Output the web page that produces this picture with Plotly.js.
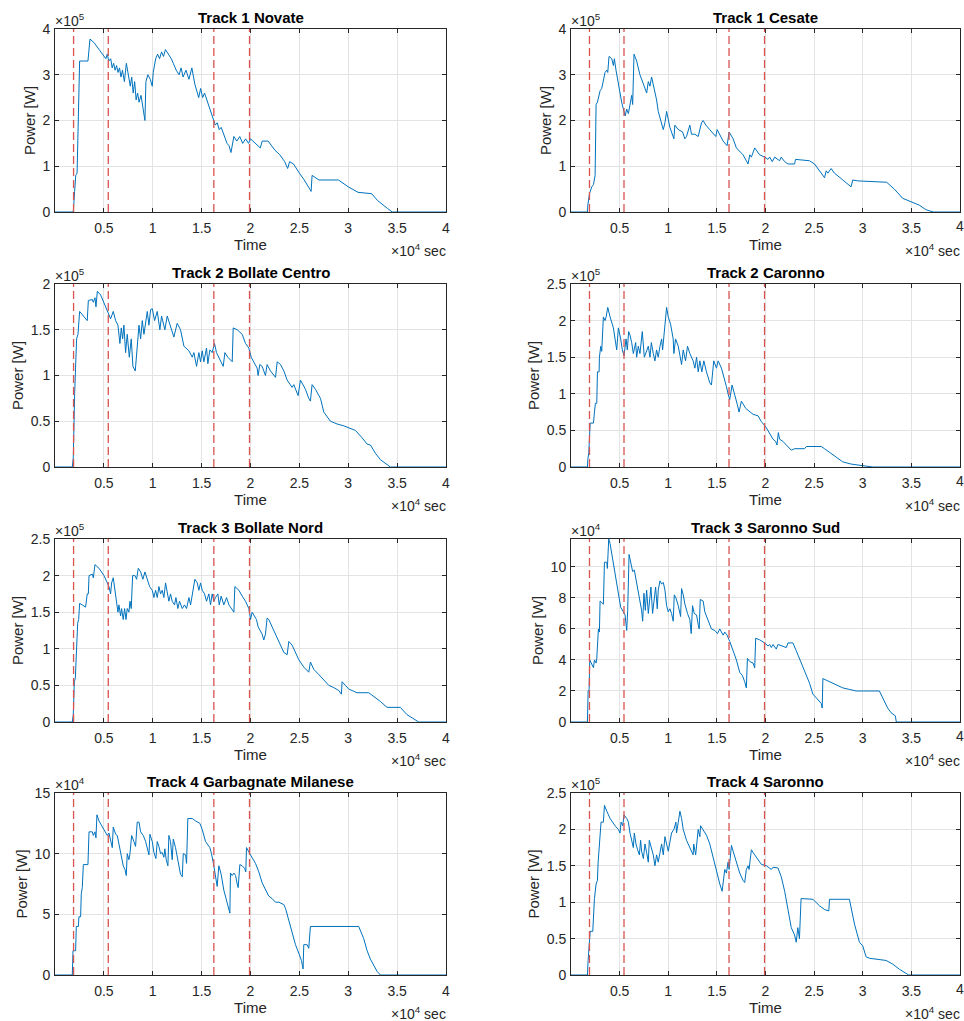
<!DOCTYPE html>
<html>
<head>
<meta charset="utf-8">
<script src="https://cdn.plot.ly/plotly-3.0.1.min.js"></script>
<style>html,body{margin:0;padding:0;background:#fff;overflow:hidden;}#chart{width:964px;height:1021px;}</style>
</head>
<body>
<div id="chart"></div>
<script>
// Time in units of 1e4 sec; power in units shown on each axis (x10^5 W or x10^4 W)
const eventTimes = [0.19, 0.545, 1.625, 1.99];

const novateT = [0,0.187,0.201,0.212,0.226,0.252,0.337,0.358,0.40,0.45,0.50,0.52,0.535,0.55,0.57,0.585,0.60,0.615,0.63,0.645,0.66,0.675,0.69,0.71,0.73,0.75,0.77,0.785,0.80,0.815,0.83,0.845,0.86,0.88,0.90,0.92,0.93,0.95,0.975,0.995,1.005,1.03,1.05,1.07,1.09,1.11,1.13,1.16,1.19,1.21,1.24,1.27,1.29,1.31,1.34,1.37,1.40,1.43,1.45,1.47,1.49,1.51,1.53,1.56,1.59,1.62,1.64,1.66,1.68,1.70,1.73,1.76,1.78,1.80,1.83,1.86,1.89,1.92,1.95,1.98,2.0,2.05,2.10,2.12,2.18,2.25,2.30,2.35,2.38,2.40,2.44,2.50,2.55,2.62,2.63,2.70,2.90,3.0,3.10,3.24,3.30,3.40,3.45,4.0];
const novateP = [0,0,0.45,0.8,0.85,3.3,3.3,3.78,3.7,3.55,3.42,3.35,3.45,3.3,3.35,3.15,3.25,3.1,3.2,3.05,3.15,2.95,3.1,2.85,3.25,2.95,2.75,2.95,2.6,2.85,2.45,2.6,2.4,2.55,2.3,2.0,2.85,3.0,2.9,2.75,3.05,3.35,3.45,3.35,3.5,3.4,3.55,3.45,3.35,3.25,3.1,3.0,3.15,2.95,3.1,2.9,3.15,2.8,2.65,2.5,2.7,2.5,2.6,2.4,2.25,2.0,1.9,1.95,1.8,1.85,1.65,1.5,1.45,1.3,1.65,1.55,1.65,1.5,1.6,1.5,1.6,1.5,1.4,1.55,1.55,1.35,1.25,1.1,0.95,1.1,1.05,0.85,0.7,0.45,0.8,0.7,0.7,0.55,0.43,0.4,0.25,0.08,0,0];

const cesateT = [0,0.169,0.173,0.190,0.214,0.231,0.248,0.258,0.272,0.282,0.299,0.316,0.333,0.350,0.368,0.378,0.391,0.419,0.436,0.446,0.463,0.487,0.521,0.556,0.573,0.590,0.607,0.624,0.634,0.648,0.675,0.709,0.744,0.778,0.795,0.812,0.829,0.846,0.863,0.880,0.897,0.921,0.949,0.966,0.983,1.017,1.058,1.068,1.103,1.147,1.171,1.188,1.222,1.239,1.274,1.308,1.342,1.359,1.386,1.427,1.489,1.503,1.530,1.564,1.605,1.626,1.667,1.701,1.769,1.821,1.838,1.855,1.889,1.906,1.940,1.991,2.026,2.043,2.070,2.094,2.145,2.162,2.197,2.231,2.299,2.309,2.453,2.504,2.538,2.607,2.624,2.641,2.675,2.709,2.795,2.880,2.897,2.949,3.246,3.325,3.410,3.496,3.581,3.650,3.726,4.0];
const cesateP = [0,0,0.15,0.4,0.55,0.6,0.8,2.35,2.4,2.5,2.65,2.7,2.9,3.05,3.1,3.05,3.4,3.35,3.2,3.35,3.1,2.8,2.4,2.1,2.25,2.15,2.4,2.55,2.35,3.45,3.3,3.0,2.8,2.6,2.85,2.75,2.95,2.8,2.6,2.45,2.2,2.0,1.8,1.95,2.2,1.85,1.6,1.9,1.8,1.75,1.6,1.65,1.9,1.7,1.7,1.65,1.95,2.0,1.9,1.8,1.65,1.8,1.7,1.55,1.45,1.75,1.6,1.4,1.25,1.05,1.25,1.2,1.4,1.35,1.25,1.2,1.15,1.2,1.1,1.2,1.12,1.2,1.1,1.05,1.05,1.15,1.12,1.05,0.95,0.75,0.9,0.85,0.95,0.85,0.7,0.55,0.7,0.68,0.65,0.5,0.3,0.22,0.15,0.05,0,0];

const bollateCentroT = [0,0.177,0.187,0.201,0.221,0.235,0.252,0.330,0.341,0.382,0.392,0.409,0.419,0.433,0.467,0.501,0.535,0.569,0.596,0.620,0.644,0.664,0.678,0.692,0.705,0.722,0.739,0.760,0.780,0.797,0.821,0.842,0.859,0.876,0.893,0.910,0.927,0.944,0.961,0.978,0.995,1.019,1.046,1.073,1.090,1.124,1.148,1.175,1.216,1.250,1.284,1.319,1.370,1.404,1.421,1.448,1.472,1.489,1.506,1.523,1.550,1.564,1.584,1.608,1.632,1.652,1.676,1.721,1.738,1.768,1.813,1.823,1.864,1.915,1.949,1.983,2.007,2.034,2.068,2.078,2.095,2.119,2.153,2.170,2.204,2.256,2.273,2.307,2.341,2.375,2.426,2.443,2.477,2.487,2.511,2.562,2.596,2.613,2.630,2.664,2.716,2.750,2.818,2.886,2.954,3.005,3.073,3.141,3.193,3.227,3.278,3.329,3.417,3.431,4.0];
const bollateCentroP = [0,0,0.1,0.8,1.4,1.45,1.7,1.6,1.82,1.83,1.8,1.85,1.75,1.92,1.88,1.8,1.7,1.62,1.7,1.6,1.55,1.35,1.52,1.4,1.55,1.25,1.45,1.2,1.4,1.1,1.05,1.35,1.55,1.4,1.6,1.45,1.6,1.7,1.55,1.72,1.73,1.6,1.7,1.5,1.65,1.5,1.65,1.55,1.42,1.57,1.5,1.32,1.27,1.2,1.25,1.1,1.25,1.15,1.27,1.15,1.3,1.13,1.28,1.25,1.35,1.25,1.2,1.1,1.25,1.2,1.15,1.52,1.5,1.45,1.35,1.3,1.2,1.15,1.08,1.0,1.12,1.1,1.0,1.12,1.05,0.98,1.15,1.12,1.05,0.95,0.87,0.9,0.8,0.78,0.95,0.85,0.75,0.72,0.9,0.85,0.75,0.6,0.5,0.47,0.45,0.43,0.4,0.32,0.25,0.24,0.15,0.08,0.01,0,0];

const caronnoT = [0,0.169,0.173,0.183,0.197,0.231,0.241,0.251,0.265,0.272,0.289,0.292,0.306,0.316,0.333,0.350,0.361,0.378,0.402,0.436,0.470,0.487,0.511,0.528,0.545,0.566,0.579,0.593,0.607,0.624,0.641,0.665,0.675,0.692,0.709,0.733,0.754,0.778,0.795,0.812,0.826,0.846,0.863,0.880,0.897,0.915,0.932,0.942,0.956,0.966,0.983,1.000,1.024,1.051,1.058,1.075,1.103,1.137,1.154,1.178,1.198,1.222,1.256,1.274,1.291,1.308,1.325,1.345,1.366,1.393,1.427,1.444,1.468,1.496,1.513,1.547,1.581,1.598,1.615,1.632,1.656,1.684,1.711,1.728,1.752,1.797,1.838,1.872,1.923,1.957,2.002,2.026,2.060,2.077,2.104,2.118,2.132,2.145,2.179,2.214,2.248,2.265,2.299,2.368,2.402,2.419,2.573,2.607,2.658,2.709,2.744,2.795,2.880,2.932,3.000,3.103,4.0];
const caronnoP = [0,0,0.1,0.2,0.6,0.6,0.75,0.87,0.87,1.3,1.3,1.5,1.65,1.58,2.05,2.0,2.05,2.18,2.05,1.9,1.6,1.9,1.75,1.6,1.52,1.75,1.6,1.85,1.8,1.7,1.55,1.7,1.5,1.65,1.55,1.85,1.5,1.6,1.65,1.5,1.7,1.55,1.45,1.6,1.5,1.65,1.75,1.6,1.8,1.85,2.18,2.05,1.95,1.75,1.55,1.75,1.65,1.4,1.6,1.45,1.65,1.55,1.45,1.35,1.5,1.3,1.45,1.3,1.45,1.3,1.15,1.12,1.45,1.35,1.45,1.35,1.2,1.1,1.0,0.92,1.12,1.0,0.85,0.75,0.9,0.8,0.75,0.72,0.7,0.62,0.55,0.5,0.42,0.38,0.35,0.3,0.47,0.38,0.35,0.3,0.25,0.23,0.25,0.25,0.25,0.28,0.28,0.25,0.2,0.15,0.12,0.07,0.04,0.03,0.01,0,0];

const bollateNordT = [0,0.177,0.187,0.198,0.208,0.221,0.232,0.242,0.252,0.279,0.313,0.330,0.341,0.348,0.382,0.392,0.409,0.450,0.501,0.535,0.552,0.569,0.579,0.596,0.613,0.630,0.644,0.654,0.671,0.681,0.698,0.712,0.726,0.739,0.756,0.767,0.780,0.794,0.818,0.835,0.852,0.876,0.899,0.920,0.944,0.968,0.995,1.012,1.029,1.046,1.063,1.080,1.097,1.114,1.131,1.148,1.165,1.182,1.199,1.223,1.237,1.257,1.274,1.302,1.325,1.346,1.370,1.387,1.414,1.431,1.455,1.472,1.489,1.506,1.530,1.550,1.574,1.591,1.608,1.625,1.642,1.666,1.680,1.700,1.727,1.755,1.779,1.806,1.830,1.840,1.881,1.915,1.949,1.983,2.000,2.017,2.041,2.061,2.078,2.102,2.119,2.136,2.153,2.170,2.187,2.221,2.256,2.290,2.341,2.375,2.392,2.426,2.460,2.494,2.545,2.596,2.613,2.647,2.698,2.750,2.801,2.852,2.903,2.930,2.937,2.971,3.005,3.056,3.090,3.210,3.261,3.329,3.397,3.533,3.601,3.687,3.721,4.0];
const bollateNordP = [0,0,0.1,0.55,0.6,0.95,1.35,1.4,1.62,1.6,1.57,1.75,1.75,2.0,2.02,1.97,2.15,2.1,2.0,1.9,1.85,1.75,1.9,1.97,1.8,1.7,1.5,1.6,1.45,1.55,1.4,1.55,1.4,1.55,1.5,1.65,1.55,2.0,2.0,1.95,2.1,2.05,1.95,2.05,1.95,1.85,1.8,1.7,1.8,1.7,1.85,1.75,1.8,1.7,1.9,1.75,1.65,1.75,1.65,1.6,1.7,1.55,1.65,1.55,1.6,1.55,1.7,1.6,1.8,1.95,1.9,1.8,1.9,1.8,1.75,1.65,1.75,1.6,1.75,1.65,1.7,1.75,1.6,1.72,1.6,1.7,1.6,1.55,1.5,1.85,1.8,1.72,1.65,1.55,1.4,1.5,1.45,1.4,1.3,1.25,1.2,1.12,1.2,1.42,1.4,1.3,1.2,1.1,0.95,0.92,1.1,1.05,0.95,0.85,0.75,0.68,0.82,0.72,0.65,0.58,0.5,0.47,0.43,0.38,0.55,0.5,0.45,0.42,0.4,0.4,0.35,0.28,0.2,0.2,0.1,0.03,0,0];

const saronnoSudT = [0,0.169,0.176,0.186,0.193,0.207,0.217,0.231,0.241,0.258,0.265,0.272,0.282,0.292,0.299,0.316,0.333,0.344,0.368,0.374,0.388,0.402,0.429,0.453,0.487,0.511,0.538,0.556,0.573,0.583,0.597,0.617,0.634,0.651,0.675,0.692,0.709,0.726,0.737,0.750,0.764,0.778,0.795,0.812,0.822,0.839,0.853,0.870,0.887,0.897,0.915,0.932,0.949,0.966,0.983,1.000,1.017,1.034,1.051,1.062,1.079,1.103,1.127,1.137,1.154,1.171,1.198,1.222,1.236,1.250,1.267,1.291,1.308,1.318,1.329,1.359,1.376,1.410,1.444,1.479,1.506,1.530,1.564,1.581,1.605,1.632,1.667,1.701,1.735,1.762,1.786,1.803,1.814,1.838,1.872,1.889,1.899,1.940,1.991,2.026,2.043,2.060,2.077,2.111,2.128,2.179,2.214,2.231,2.282,2.316,2.368,2.419,2.453,2.487,2.538,2.573,2.583,2.590,2.624,2.692,2.744,2.795,2.863,2.932,3.171,3.205,3.256,3.291,3.335,3.345,4.0];
const saronnoSudP = [0,0,2.0,2.1,4.0,3.8,3.7,3.5,4.0,3.8,4.1,5.5,6.0,5.8,7.8,7.7,7.6,10.3,10.3,9.9,11.8,11.5,10.5,9.5,8.2,7.4,7.1,6.9,5.9,7.2,10.8,10.2,9.7,9.8,9.0,8.5,7.8,7.2,6.5,8.3,7.2,8.5,7.0,8.0,8.7,7.0,8.0,8.7,7.3,8.5,9.1,8.9,9.0,8.5,7.5,7.1,7.3,7.0,6.5,8.2,8.0,7.5,6.8,8.6,8.2,7.6,7.0,6.6,5.7,7.5,7.0,6.9,6.3,6.0,7.9,7.8,7.1,6.6,6.0,5.9,5.7,6.0,5.6,5.8,5.6,5.2,4.6,4.0,3.2,3.0,2.6,2.2,4.1,3.9,3.8,3.5,5.4,5.3,5.1,4.9,5.0,4.8,5.0,4.7,5.0,4.9,4.8,5.1,5.1,4.6,3.8,3.0,2.5,1.8,1.4,1.2,0.9,2.8,2.7,2.5,2.3,2.2,2.1,2.0,2.0,1.6,0.9,0.6,0.4,0,0];

const garbagnateT = [0,0.177,0.184,0.211,0.218,0.239,0.245,0.262,0.269,0.279,0.290,0.337,0.348,0.382,0.392,0.409,0.419,0.429,0.450,0.484,0.518,0.535,0.552,0.569,0.586,0.596,0.620,0.637,0.661,0.678,0.698,0.716,0.729,0.739,0.756,0.767,0.784,0.807,0.824,0.841,0.859,0.876,0.903,0.927,0.944,0.961,0.971,0.995,1.012,1.032,1.046,1.063,1.080,1.097,1.114,1.124,1.138,1.155,1.165,1.182,1.199,1.210,1.233,1.250,1.267,1.284,1.302,1.312,1.336,1.346,1.359,1.404,1.438,1.482,1.506,1.540,1.584,1.601,1.625,1.642,1.659,1.676,1.700,1.727,1.761,1.789,1.795,1.813,1.830,1.847,1.864,1.874,1.891,1.915,1.939,1.952,1.959,1.983,2.000,2.051,2.085,2.119,2.153,2.187,2.221,2.256,2.290,2.341,2.358,2.392,2.426,2.460,2.494,2.521,2.538,2.545,2.579,2.596,2.613,3.107,3.158,3.193,3.227,3.261,3.295,3.329,4.0];
const garbagnateP = [0,0,2,2,4,4,4.8,4.8,6.7,7.2,9.1,9.1,11.8,11.8,11.5,11.8,11.3,13.2,12.7,12.2,11.7,11.5,11.7,11.2,10.5,12.2,11.6,11.5,10.5,10.0,9.0,8.7,8.2,10.0,9.5,10.0,11.5,11.0,10.6,12.6,12.6,11.8,11.5,11.0,10.5,9.9,11.6,11.0,10.1,9.6,11.0,10.6,10.0,10.1,9.7,10.4,9.5,9.0,11.5,11.0,9.5,11.2,10.5,9.8,9.0,8.3,8.1,10.0,9.9,9.2,12.9,12.9,12.7,12.5,12.0,11.0,10.5,10.0,9.0,8.0,7.3,9.0,8.3,7.0,6.0,5.1,8.4,8.2,8.4,8.2,7.5,7.2,9.1,9.0,8.8,8.5,10.5,10.2,9.9,9.2,8.5,7.6,7.0,6.5,6.3,6.0,6.0,5.8,5.5,4.5,3.5,2.5,1.8,1.2,0.5,2.5,2.5,2.2,4.0,4.0,3.0,2.0,1.3,0.8,0.3,0,0];

const saronnoT = [0,0.169,0.176,0.186,0.197,0.224,0.231,0.241,0.258,0.272,0.279,0.289,0.299,0.309,0.333,0.344,0.368,0.402,0.453,0.487,0.504,0.515,0.532,0.545,0.573,0.590,0.607,0.624,0.641,0.651,0.668,0.685,0.703,0.716,0.726,0.744,0.761,0.778,0.795,0.805,0.829,0.846,0.863,0.880,0.897,0.915,0.932,0.949,0.966,0.983,1.000,1.034,1.058,1.079,1.085,1.103,1.120,1.137,1.154,1.188,1.222,1.256,1.262,1.282,1.308,1.325,1.332,1.359,1.393,1.427,1.462,1.496,1.530,1.554,1.564,1.581,1.598,1.615,1.626,1.650,1.667,1.701,1.735,1.769,1.786,1.803,1.821,1.831,1.855,1.889,1.923,1.957,2.009,2.060,2.077,2.128,2.162,2.197,2.231,2.265,2.299,2.316,2.332,2.349,2.366,2.487,2.556,2.607,2.651,2.658,2.863,2.915,2.966,3.000,3.034,3.068,3.239,3.308,3.376,3.444,3.472,4.0];
const saronnoP = [0,0,0.2,0.45,0.6,0.6,0.9,1.05,1.25,1.3,1.55,1.7,1.9,2.1,2.1,2.33,2.25,2.15,2.05,2.0,1.95,2.1,2.05,2.2,2.15,2.1,1.95,1.85,1.75,1.95,1.8,1.72,1.65,1.85,1.7,1.6,1.8,1.68,1.55,1.85,1.75,1.65,1.5,1.65,1.55,1.7,1.8,1.65,1.9,1.8,1.7,1.95,2.0,2.1,1.95,2.1,2.25,2.15,2.0,1.85,1.75,1.65,1.8,1.65,2.0,1.9,2.05,2.0,1.92,1.8,1.6,1.45,1.25,1.15,1.3,1.45,1.4,1.55,1.45,1.78,1.7,1.55,1.4,1.3,1.27,1.45,1.5,1.45,1.72,1.65,1.58,1.52,1.5,1.45,1.48,1.47,1.35,1.15,0.9,0.65,0.55,0.45,0.65,0.5,1.05,1.04,0.95,0.9,0.88,1.04,1.04,0.7,0.45,0.4,0.25,0.23,0.2,0.15,0.08,0.03,0,0];

const titles = ['Track 1 Novate','Track 1 Cesate','Track 2 Bollate Centro','Track 2 Caronno','Track 3 Bollate Nord','Track 3 Saronno Sud','Track 4 Garbagnate Milanese','Track 4 Saronno'];
const yMax = [4, 4, 2, 2.5, 2.5, 11.8, 15, 2.5];
const yStep = [1, 1, 0.5, 0.5, 0.5, 2, 5, 0.5];
const yExp = [5, 5, 5, 5, 5, 4, 4, 5];
const xTicks = [0.5, 1, 1.5, 2, 2.5, 3, 3.5, 4];

const series = [[novateT,novateP],[cesateT,cesateP],[bollateCentroT,bollateCentroP],[caronnoT,caronnoP],[bollateNordT,bollateNordP],[saronnoSudT,saronnoSudP],[garbagnateT,garbagnateP],[saronnoT,saronnoP]];

const W = 964, H = 1021;
const xDom = [[55/W, 446/W], [571/W, 960/W]];
const rowPx = [[29,212],[284,467],[539,722],[793,975]];
const yDom = rowPx.map(r => [1 - r[1]/H, 1 - r[0]/H]);

const FONT = 'Liberation Sans, Arial, Helvetica, sans-serif';
const TXT = '#262626';
const traces = [];
const shapes = [];
const annotations = [];
const layout = {
  width: W, height: H,
  margin: {l:0, r:0, t:0, b:0},
  paper_bgcolor: '#ffffff', plot_bgcolor: '#ffffff',
  showlegend: false,
  font: {family: FONT, color: TXT, size: 14}
};

for (let i = 0; i < 8; i++) {
  const row = Math.floor(i/2), col = i % 2;
  const xa = 'xaxis' + (i === 0 ? '' : i+1);
  const ya = 'yaxis' + (i === 0 ? '' : i+1);
  const xr = 'x' + (i === 0 ? '' : i+1);
  const yr = 'y' + (i === 0 ? '' : i+1);
  traces.push({
    x: series[i][0], y: series[i][1], xaxis: xr, yaxis: yr,
    type: 'scatter', mode: 'lines',
    line: {color: '#0072BD', width: 1}, hoverinfo: 'skip'
  });
  // right-column: the last tick label sits at the page edge, where Plotly drops it;
  // it is drawn below as an annotation placed through the axis scale instead
  const colTicks = col === 1 ? xTicks.slice(0, -1) : xTicks;
  layout[xa] = {
    domain: xDom[col], anchor: yr, range: [0, 4],
    tickmode: 'array', tickvals: colTicks,
    ticks: 'inside', ticklen: 4, tickcolor: TXT, tickwidth: 1,
    showline: true, linecolor: TXT, linewidth: 1, mirror: 'ticks',
    showgrid: true, gridcolor: '#e3e3e3', gridwidth: 1, zeroline: false,
    tickfont: {family: FONT, size: 14, color: TXT},
    ticklabelstandoff: 3, ticklabeloverflow: 'allow',
    title: {text: 'Time', font: {family: FONT, size: 15, color: TXT}, standoff: 4},
    fixedrange: true
  };
  const yt = [];
  for (let v = 0; v <= yMax[i] + 1e-9; v += yStep[i]) yt.push(Math.round(v*100)/100);
  layout[ya] = {
    domain: yDom[row], anchor: xr, range: [0, yMax[i]],
    tickmode: 'array', tickvals: yt,
    ticks: 'inside', ticklen: 4, tickcolor: TXT, tickwidth: 1,
    showline: true, linecolor: TXT, linewidth: 1, mirror: 'ticks',
    showgrid: true, gridcolor: '#e3e3e3', gridwidth: 1, zeroline: false,
    tickfont: {family: FONT, size: 14, color: TXT},
    ticklabelstandoff: 1, ticklabeloverflow: 'allow',
    title: {text: 'Power [W]', font: {family: FONT, size: 15, color: TXT}, standoff: 3},
    fixedrange: true
  };
  if (col === 1) {
    const last = xTicks[xTicks.length - 1];
    annotations.push({text: String(last), xref: xr, yref: yr + ' domain', x: last, y: 0,
      xanchor: 'center', yanchor: 'top', yshift: -4, showarrow: false,
      font: {family: FONT, size: 14, color: TXT}});
  }
  eventTimes.forEach(t => {
    shapes.push({type: 'line', xref: xr, yref: yr + ' domain', x0: t, x1: t, y0: 0, y1: 1,
      line: {color: '#d9534f', width: 1.3, dash: '8px,4px'}});
  });
  const xc = (xDom[col][0] + xDom[col][1]) / 2;
  annotations.push({text: '<b>' + titles[i] + '</b>', xref: 'paper', yref: 'paper',
    x: xc, y: yDom[row][1], xanchor: 'center', yanchor: 'bottom', yshift: 1, showarrow: false,
    font: {family: FONT, size: 15, color: '#000000'}});
  annotations.push({text: '×10<sup>' + yExp[i] + '</sup>', xref: 'paper', yref: 'paper',
    x: xDom[col][0], y: yDom[row][1], xanchor: 'left', yanchor: 'bottom', yshift: -2, xshift: -2, showarrow: false,
    font: {family: FONT, size: 14, color: TXT}});
  annotations.push({text: '×10<sup>4</sup> sec', xref: 'paper', yref: 'paper',
    x: xDom[col][1], y: yDom[row][0], xanchor: 'right', yanchor: 'top', yshift: -27, xshift: 2, showarrow: false,
    font: {family: FONT, size: 14, color: TXT}});
}
layout.shapes = shapes;
layout.annotations = annotations;

Plotly.newPlot('chart', traces, layout, {staticPlot: true, displayModeBar: false});
</script>
</body>
</html>
